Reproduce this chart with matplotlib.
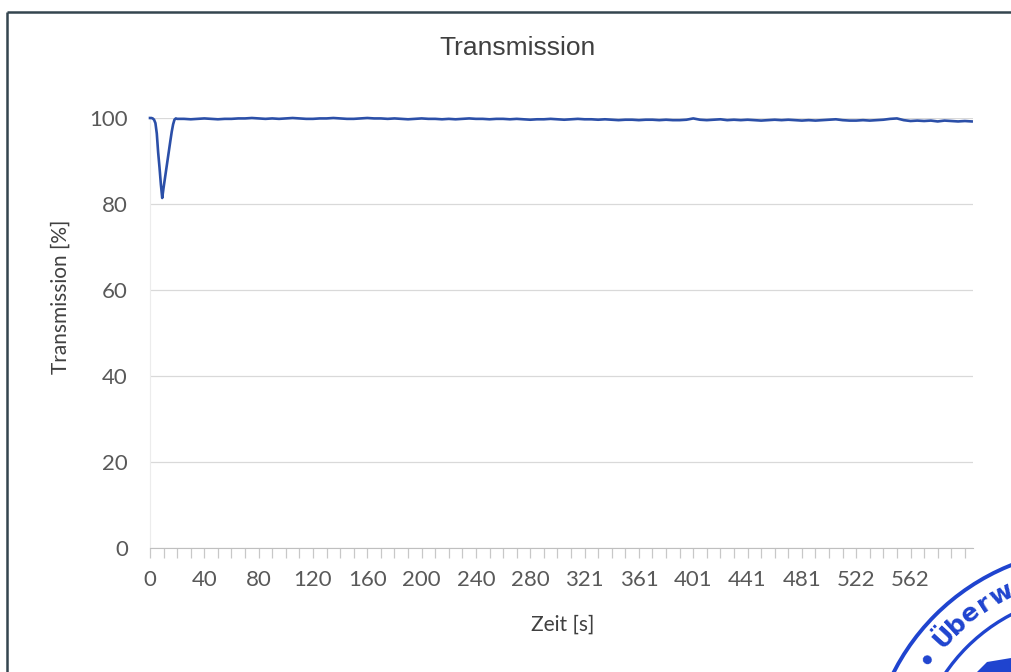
import numpy as np
import matplotlib.pyplot as plt
from matplotlib.patches import Circle, Polygon

# Messwerte: Stichproben-Index und Transmission in %
idx_dip = list(range(0, 20))
trans_dip = [100.0, 100.0, 99.9, 99.6, 98.8, 96.4, 92.0, 88.5, 84.6, 81.4,
             83.8, 86.0, 88.1, 90.3, 92.5, 94.7, 96.8, 98.5, 99.6, 99.9]

idx_rest = list(range(20, 606, 5))
trans_rest = [
    99.8, 99.8, 99.7, 99.8, 99.9, 99.8, 99.7, 99.8, 99.8, 99.9,
    99.9, 100.0, 99.9, 99.8, 99.9, 99.8, 99.9, 100.0, 99.9, 99.8,
    99.8, 99.9, 99.9, 100.0, 99.9, 99.8, 99.8, 99.9, 100.0, 99.9,
    99.9, 99.8, 99.9, 99.8, 99.7, 99.8, 99.9, 99.8, 99.8, 99.7,
    99.8, 99.7, 99.8, 99.9, 99.8, 99.8, 99.7, 99.8, 99.8, 99.7,
    99.8, 99.7, 99.6, 99.7, 99.7, 99.8, 99.7, 99.6, 99.7, 99.8,
    99.7, 99.7, 99.6, 99.7, 99.6, 99.5, 99.6, 99.6, 99.5, 99.6,
    99.6, 99.5, 99.6, 99.5, 99.5, 99.6, 99.9, 99.6, 99.5, 99.6,
    99.7, 99.5, 99.6, 99.5, 99.6, 99.5, 99.4, 99.5, 99.6, 99.5,
    99.6, 99.5, 99.4, 99.5, 99.4, 99.5, 99.6, 99.7, 99.5, 99.4,
    99.4, 99.5, 99.4, 99.5, 99.6, 99.8, 99.9, 99.5, 99.3, 99.4,
    99.3, 99.4, 99.2, 99.4, 99.3, 99.2, 99.3, 99.2,
]

# Beschriftung der Zeitachse (jede 40. Kategorie)
zeit_labels = ['0', '40', '80', '120', '160', '200', '240', '280',
               '321', '361', '401', '441', '481', '522', '562']
y_ticks = [0, 20, 40, 60, 80, 100]

x = idx_dip + idx_rest
y = trans_dip + trans_rest

W, H = 1011, 672
fig = plt.figure(figsize=(W / 100, H / 100), dpi=100)
fig.patch.set_facecolor('white')

ax = fig.add_axes([150 / W, 1 - 548 / H, (973 - 150) / W, (548 - 118) / H])
ax.plot(x, y, color='#2b4fa8', lw=1.9, clip_on=False, zorder=3)

ax.set_xlim(0, 606)
ax.set_ylim(0, 100)
ax.set_yticks(y_ticks)
ax.set_yticklabels([str(v) for v in y_ticks])
ax.grid(axis='y', color='#d9d9d9', lw=0.9)
ax.set_axisbelow(True)

# Striche alle 10 Kategorien, Beschriftung jede 40.
ticks = np.arange(0, 606, 10)
labels = []
for t in ticks:
    k = t // 40
    labels.append(zeit_labels[k] if t % 40 == 0 and k < len(zeit_labels) else '')
ax.set_xticks(ticks)
ax.set_xticklabels(labels)

for s in ['top', 'right']:
    ax.spines[s].set_visible(False)
ax.spines['bottom'].set_color('#bfbfbf')
ax.spines['left'].set_color('#ececec')
ax.tick_params(axis='x', direction='out', length=7, width=0.9, color='#c8c8c8',
               labelsize=16, labelcolor='#595959', pad=9)
ax.tick_params(axis='y', length=0, labelsize=16, labelcolor='#595959', pad=16)
for lab in ax.get_xticklabels() + ax.get_yticklabels():
    lab.set_fontfamily('Lato')

fig.text(517 / W, 1 - 48 / H, 'Transmission', ha='center', va='center',
         fontsize=19, color='#404040', family='Liberation Sans')
fig.text(563 / W, 1 - 625 / H, 'Zeit [s]', ha='center', va='center',
         fontsize=15, color='#404040', family='Lato')
fig.text(61 / W, 1 - 297 / H, 'Transmission [%]', ha='center', va='center',
         rotation=90, fontsize=15, color='#404040', family='Lato')

# Überlagerung in Pixelkoordinaten: Rahmen und Stempel
ov = fig.add_axes([0, 0, 1, 1], zorder=10)
ov.set_xlim(0, W)
ov.set_ylim(H, 0)
ov.axis('off')
ov.patch.set_alpha(0)

ov.plot([7, W], [12, 12], color='#34454f', lw=1.8, solid_capstyle='butt')
ov.plot([7, 7], [12, H], color='#34454f', lw=1.8, solid_capstyle='butt')

blau = '#1f44cf'
cx, cy = 1095, 775
ov.add_patch(Circle((cx, cy), 226, fill=False, ec=blau, lw=2.8))
ov.add_patch(Circle((cx, cy), 181, fill=False, ec=blau, lw=2.4))
ov.add_patch(Polygon([(977, 672), (987, 662), (1011, 658), (1011, 672)],
                     closed=True, fc=blau, ec='none'))

stempel = [('•', 145), ('Ü', 137.5), ('b', 132.5), ('e', 127.5),
           ('r', 122.8), ('w', 117.5)]
for ch, ang in stempel:
    a = np.radians(ang)
    px = cx + 204 * np.cos(a)
    py = cy - 204 * np.sin(a)
    ov.text(px, py, ch, rotation=ang - 90, ha='center', va='center',
            fontsize=18, color=blau, fontweight='bold', family='DejaVu Sans',
            clip_on=True)

fig.savefig('out.png', dpi=100)
